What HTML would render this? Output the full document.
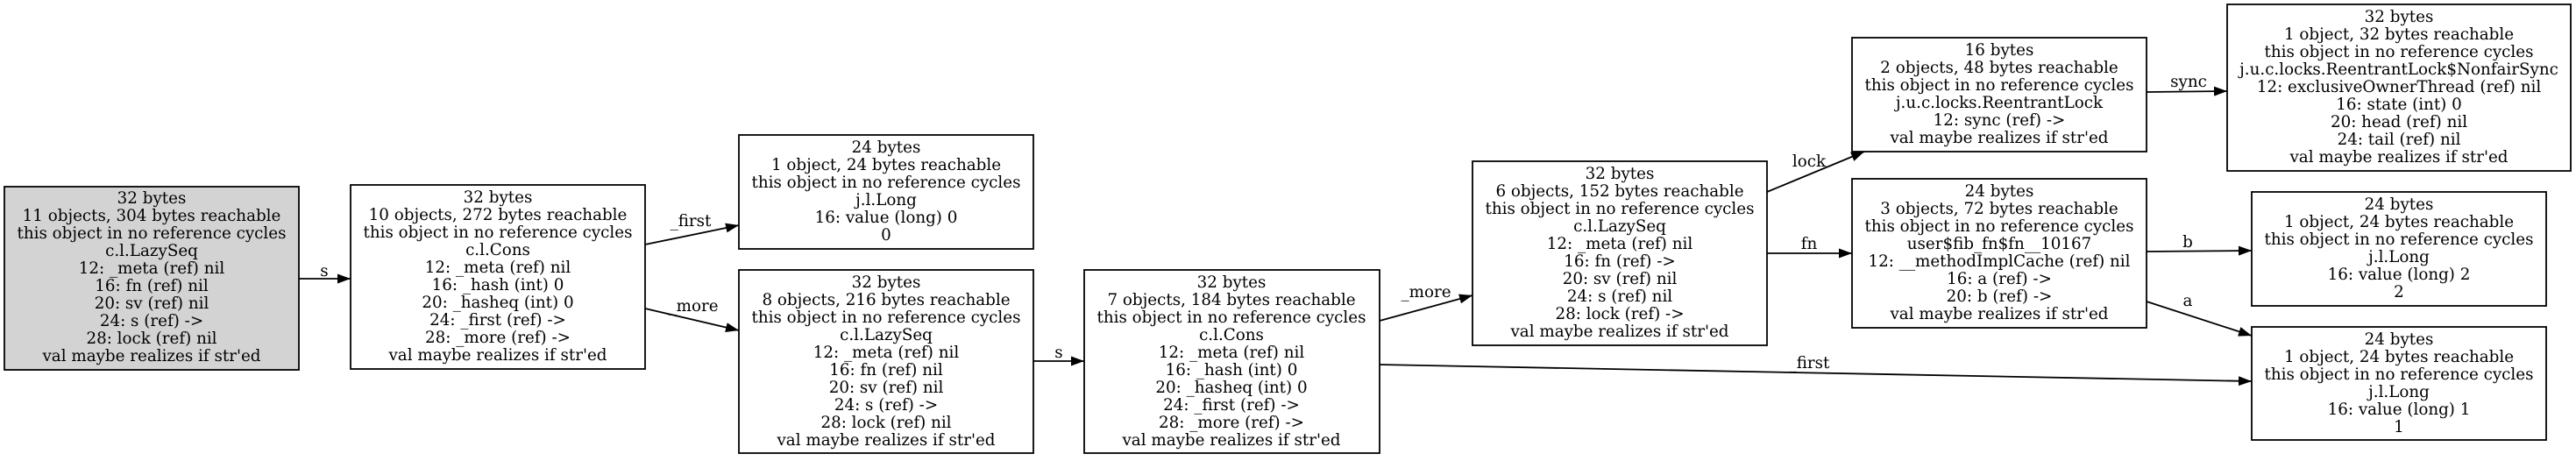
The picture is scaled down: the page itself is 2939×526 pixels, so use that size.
<!DOCTYPE html>
<html><head><meta charset="utf-8"><style>
html,body{margin:0;padding:0;background:#fff;}
svg{display:block;}
text{font-family:"DejaVu Serif","Liberation Serif",serif;font-size:18.3px;fill:#000;}
</style></head><body>
<svg width="2939" height="526" viewBox="0 0 2939 526" xmlns="http://www.w3.org/2000/svg">
<defs><marker id="ah" markerWidth="15" markerHeight="11" refX="15" refY="5.5" orient="auto" markerUnits="userSpaceOnUse" viewBox="0 0 15 11"><path d="M0,0 L15,5.5 L0,11 Z" fill="#000"/></marker></defs>
<g fill="none" stroke="#000" stroke-width="1.8">
<rect x="5" y="213" width="336" height="209" fill="#d3d3d3"/>
<rect x="400" y="211" width="336" height="210" fill="#fff"/>
<rect x="843" y="154" width="336" height="130" fill="#fff"/>
<rect x="843" y="308" width="336" height="209" fill="#fff"/>
<rect x="1237" y="308" width="337" height="209" fill="#fff"/>
<rect x="1680" y="184" width="336" height="210" fill="#fff"/>
<rect x="2113" y="43" width="336" height="130" fill="#fff"/>
<rect x="2541" y="5" width="392" height="190" fill="#fff"/>
<rect x="2113" y="204" width="336" height="170" fill="#fff"/>
<rect x="2569" y="219" width="336" height="130" fill="#fff"/>
<rect x="2569" y="373" width="336" height="129" fill="#fff"/>
</g>
<g stroke="#000" stroke-width="1.8" fill="none" marker-end="url(#ah)">
<line x1="341" y1="318" x2="400" y2="318"/>
<line x1="736" y1="279" x2="843" y2="257"/>
<line x1="736" y1="352" x2="843" y2="377"/>
<line x1="1179" y1="412" x2="1237" y2="412"/>
<line x1="1574" y1="366" x2="1680" y2="337"/>
<line x1="1574" y1="416" x2="2569" y2="435"/>
<line x1="2016" y1="219" x2="2127" y2="173"/>
<line x1="2016" y1="289" x2="2113" y2="289"/>
<line x1="2449" y1="105" x2="2541" y2="104"/>
<line x1="2449" y1="287" x2="2569" y2="286"/>
<line x1="2449" y1="344" x2="2569" y2="383"/>
</g>
<g text-anchor="middle">
<text x="370" y="315">s</text>
<text x="788" y="258">_first</text>
<text x="791" y="355">_more</text>
<text x="1208" y="408">s</text>
<text x="1627" y="339">_more</text>
<text x="2064" y="420">_first</text>
<text x="2064" y="190">lock</text>
<text x="2064" y="284">fn</text>
<text x="2497" y="99">sync</text>
<text x="2496" y="282">b</text>
<text x="2496" y="349">a</text>
</g>
<g text-anchor="middle">
<text x="173" y="232"><tspan x="173">32 bytes</tspan><tspan x="173" dy="20">11 objects, 304 bytes reachable</tspan><tspan x="173" dy="20">this object in no reference cycles</tspan><tspan x="173" dy="20">c.l.LazySeq</tspan><tspan x="173" dy="20">12: _meta (ref) nil</tspan><tspan x="173" dy="20">16: fn (ref) nil</tspan><tspan x="173" dy="20">20: sv (ref) nil</tspan><tspan x="173" dy="20">24: s (ref) -&gt;</tspan><tspan x="173" dy="20">28: lock (ref) nil</tspan><tspan x="173" dy="20">val maybe realizes if str'ed</tspan></text>
<text x="568" y="231"><tspan x="568">32 bytes</tspan><tspan x="568" dy="20">10 objects, 272 bytes reachable</tspan><tspan x="568" dy="20">this object in no reference cycles</tspan><tspan x="568" dy="20">c.l.Cons</tspan><tspan x="568" dy="20">12: _meta (ref) nil</tspan><tspan x="568" dy="20">16: _hash (int) 0</tspan><tspan x="568" dy="20">20: _hasheq (int) 0</tspan><tspan x="568" dy="20">24: _first (ref) -&gt;</tspan><tspan x="568" dy="20">28: _more (ref) -&gt;</tspan><tspan x="568" dy="20">val maybe realizes if str'ed</tspan></text>
<text x="1011" y="174"><tspan x="1011">24 bytes</tspan><tspan x="1011" dy="20">1 object, 24 bytes reachable</tspan><tspan x="1011" dy="20">this object in no reference cycles</tspan><tspan x="1011" dy="20">j.l.Long</tspan><tspan x="1011" dy="20">16: value (long) 0</tspan><tspan x="1011" dy="20">0</tspan></text>
<text x="1011" y="328"><tspan x="1011">32 bytes</tspan><tspan x="1011" dy="20">8 objects, 216 bytes reachable</tspan><tspan x="1011" dy="20">this object in no reference cycles</tspan><tspan x="1011" dy="20">c.l.LazySeq</tspan><tspan x="1011" dy="20">12: _meta (ref) nil</tspan><tspan x="1011" dy="20">16: fn (ref) nil</tspan><tspan x="1011" dy="20">20: sv (ref) nil</tspan><tspan x="1011" dy="20">24: s (ref) -&gt;</tspan><tspan x="1011" dy="20">28: lock (ref) nil</tspan><tspan x="1011" dy="20">val maybe realizes if str'ed</tspan></text>
<text x="1405" y="328"><tspan x="1405">32 bytes</tspan><tspan x="1405" dy="20">7 objects, 184 bytes reachable</tspan><tspan x="1405" dy="20">this object in no reference cycles</tspan><tspan x="1405" dy="20">c.l.Cons</tspan><tspan x="1405" dy="20">12: _meta (ref) nil</tspan><tspan x="1405" dy="20">16: _hash (int) 0</tspan><tspan x="1405" dy="20">20: _hasheq (int) 0</tspan><tspan x="1405" dy="20">24: _first (ref) -&gt;</tspan><tspan x="1405" dy="20">28: _more (ref) -&gt;</tspan><tspan x="1405" dy="20">val maybe realizes if str'ed</tspan></text>
<text x="1848" y="204"><tspan x="1848">32 bytes</tspan><tspan x="1848" dy="20">6 objects, 152 bytes reachable</tspan><tspan x="1848" dy="20">this object in no reference cycles</tspan><tspan x="1848" dy="20">c.l.LazySeq</tspan><tspan x="1848" dy="20">12: _meta (ref) nil</tspan><tspan x="1848" dy="20">16: fn (ref) -&gt;</tspan><tspan x="1848" dy="20">20: sv (ref) nil</tspan><tspan x="1848" dy="20">24: s (ref) nil</tspan><tspan x="1848" dy="20">28: lock (ref) -&gt;</tspan><tspan x="1848" dy="20">val maybe realizes if str'ed</tspan></text>
<text x="2281" y="63"><tspan x="2281">16 bytes</tspan><tspan x="2281" dy="20">2 objects, 48 bytes reachable</tspan><tspan x="2281" dy="20">this object in no reference cycles</tspan><tspan x="2281" dy="20">j.u.c.locks.ReentrantLock</tspan><tspan x="2281" dy="20">12: sync (ref) -&gt;</tspan><tspan x="2281" dy="20">val maybe realizes if str'ed</tspan></text>
<text x="2737" y="25"><tspan x="2737">32 bytes</tspan><tspan x="2737" dy="20">1 object, 32 bytes reachable</tspan><tspan x="2737" dy="20">this object in no reference cycles</tspan><tspan x="2737" dy="20">j.u.c.locks.ReentrantLock$NonfairSync</tspan><tspan x="2737" dy="20">12: exclusiveOwnerThread (ref) nil</tspan><tspan x="2737" dy="20">16: state (int) 0</tspan><tspan x="2737" dy="20">20: head (ref) nil</tspan><tspan x="2737" dy="20">24: tail (ref) nil</tspan><tspan x="2737" dy="20">val maybe realizes if str'ed</tspan></text>
<text x="2281" y="224"><tspan x="2281">24 bytes</tspan><tspan x="2281" dy="20">3 objects, 72 bytes reachable</tspan><tspan x="2281" dy="20">this object in no reference cycles</tspan><tspan x="2281" dy="20">user$fib_fn$fn__10167</tspan><tspan x="2281" dy="20">12: __methodImplCache (ref) nil</tspan><tspan x="2281" dy="20">16: a (ref) -&gt;</tspan><tspan x="2281" dy="20">20: b (ref) -&gt;</tspan><tspan x="2281" dy="20">val maybe realizes if str'ed</tspan></text>
<text x="2737" y="239"><tspan x="2737">24 bytes</tspan><tspan x="2737" dy="20">1 object, 24 bytes reachable</tspan><tspan x="2737" dy="20">this object in no reference cycles</tspan><tspan x="2737" dy="20">j.l.Long</tspan><tspan x="2737" dy="20">16: value (long) 2</tspan><tspan x="2737" dy="20">2</tspan></text>
<text x="2737" y="393"><tspan x="2737">24 bytes</tspan><tspan x="2737" dy="20">1 object, 24 bytes reachable</tspan><tspan x="2737" dy="20">this object in no reference cycles</tspan><tspan x="2737" dy="20">j.l.Long</tspan><tspan x="2737" dy="20">16: value (long) 1</tspan><tspan x="2737" dy="20">1</tspan></text>
</g>
</svg>
</body></html>
